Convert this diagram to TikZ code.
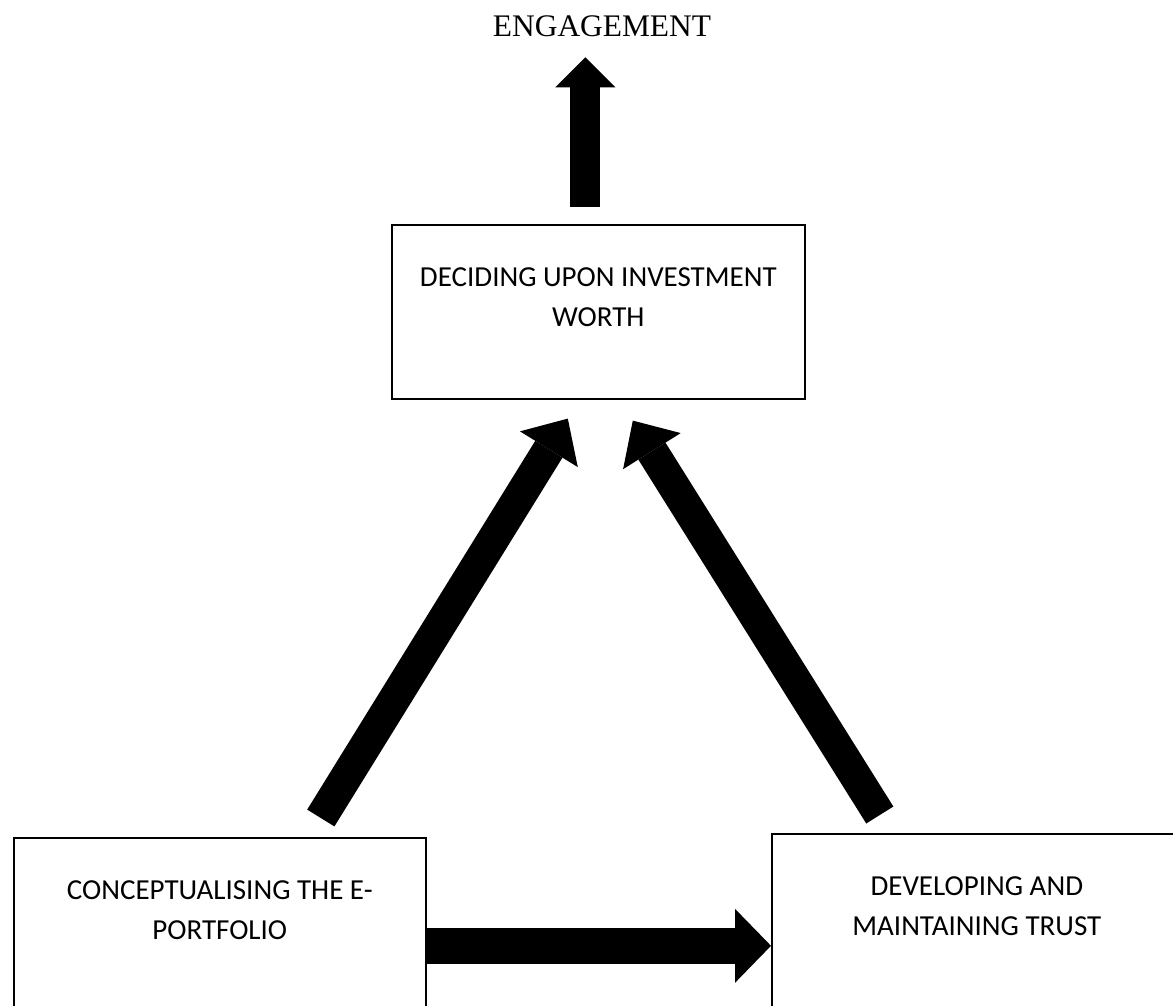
\documentclass[tikz,border=0pt]{standalone}
\usepackage{fontspec}
\setmainfont{Liberation Serif}
\setsansfont{Carlito}
\usetikzlibrary{arrows.meta,positioning}

\begin{document}
\begin{tikzpicture}[x=1pt, y=-1pt,
  box/.style={draw, line width=1.6pt, anchor=north west, minimum width=#1, inner sep=0},
  boxtext/.style={align=center, inner sep=0, font=\sffamily\fontsize{29}{40}\selectfont},
  fatarrow/.style n args={3}{line width=#1, -{Triangle[length=#2, width=#3, line width=0pt]}}]
% Frame
\path[use as bounding box, clip] (0,0) rectangle (1173,1005);
\fill[white] (0,0) rectangle (1173,1005);
% Boxes
\node[box=413pt, minimum height=174pt] (decide) at (391,224) {};
\node[box=412pt, minimum height=216pt] (concept) at (13,837) {};
\node[box=410pt, minimum height=224pt] (trust) at (771,833) {};
\node[boxtext, below=43pt of decide.north] (decidetxt) {DECIDING UPON INVESTMENT\\WORTH};
\node[boxtext, below=43pt of concept.north] (concepttxt) {CONCEPTUALISING THE E-\\PORTFOLIO};
\node[boxtext, below=43pt of trust.north] (trusttxt) {DEVELOPING AND\\MAINTAINING TRUST};
\node[inner sep=0, font=\fontsize{31.4}{36}\selectfont] (engage) at (602,26.5) {ENGAGEMENT};
% Arrows
\coordinate (upstart) at ([xshift=-13pt, yshift=17pt]decide.north);
\draw[fatarrow={30pt}{30pt}{60pt}] (upstart) -- ([yshift=-20pt]upstart |- engage.south);
\draw[fatarrow={32pt}{36pt}{68pt}] ([xshift=101pt, yshift=19pt]concept.north) -- ([xshift=-30.5pt, yshift=-19pt]decide.south);
\draw[fatarrow={32pt}{36pt}{68pt}] ([xshift=-97pt, yshift=18pt]trust.north) -- ([xshift=34.5pt, yshift=-21pt]decide.south);
\draw[fatarrow={36pt}{36pt}{74pt}] (concept.east) -- (trust.west);
\end{tikzpicture}
\end{document}
